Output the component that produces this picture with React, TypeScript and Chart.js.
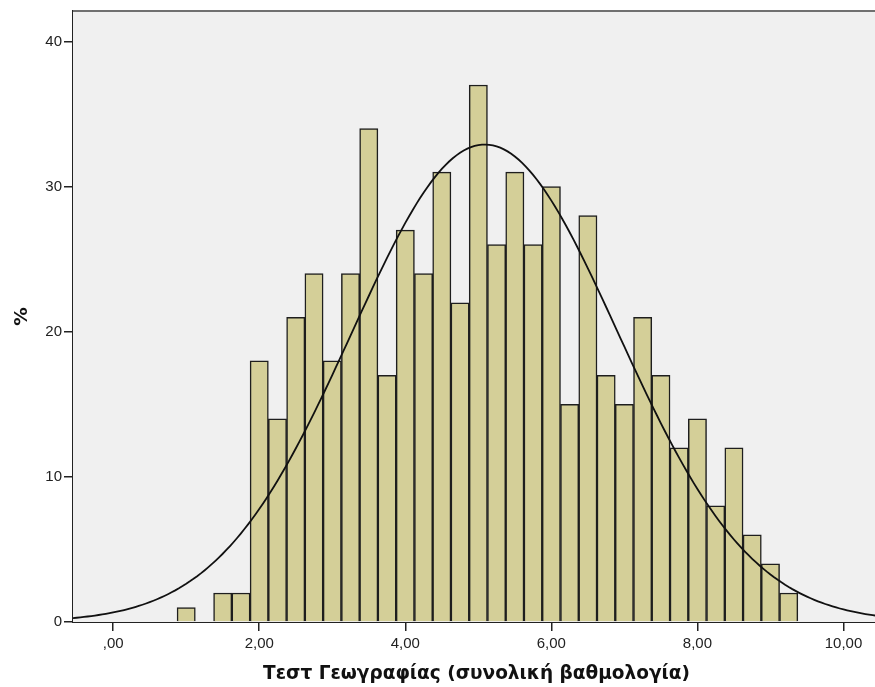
import React, { useEffect, useRef } from "react";
import { Chart, registerables } from "chart.js";

Chart.register(...registerables);

// Histogram bins (bin width 0,25) and their counts
const BIN_CENTERS = [
  1.0, 1.5, 1.75,
  2.0, 2.25, 2.5, 2.75, 3.0, 3.25, 3.5, 3.75,
  4.0, 4.25, 4.5, 4.75, 5.0, 5.25, 5.5, 5.75,
  6.0, 6.25, 6.5, 6.75, 7.0, 7.25, 7.5, 7.75,
  8.0, 8.25, 8.5, 8.75, 9.0, 9.25,
];
const COUNTS = [
  1, 2, 2,
  18, 14, 21, 24, 18, 24, 34, 17,
  27, 24, 31, 22, 37, 26, 31, 26,
  30, 15, 28, 17, 15, 21, 17, 12,
  14, 8, 12, 6, 4, 2,
];

// Normal curve parameters
const NORMAL_MEAN = 5.09;
const NORMAL_SD = 1.82;
const NORMAL_PEAK = 32.9;

const X_TICK_VALUES = [0, 2, 4, 6, 8, 10];
const X_TICK_LABELS = [",00", "2,00", "4,00", "6,00", "8,00", "10,00"];
const Y_TICK_VALUES = [0, 10, 20, 30, 40];
const Y_TICK_LABELS = ["0", "10", "20", "30", "40"];

const X_TITLE = "Τεστ Γεωγραφίας (συνολική βαθμολογία)";
const Y_TITLE = "%";

const X_MIN = -0.55;
const X_MAX = 10.5;
const Y_MAX = 42.1;

const FONT = "'Liberation Sans', Arial, sans-serif";
const TITLE_FONT = "'DejaVu Sans', Verdana, sans-serif";

export default function App() {
  const ref = useRef<HTMLCanvasElement>(null);

  useEffect(() => {
    if (!ref.current) return;
    const curve: { x: number; y: number }[] = [];
    for (let i = 0; i <= 221; i++) {
      const x = X_MIN + (i * (X_MAX - X_MIN)) / 221;
      const z = (x - NORMAL_MEAN) / NORMAL_SD;
      curve.push({ x, y: NORMAL_PEAK * Math.exp(-0.5 * z * z) });
    }
    const bars = BIN_CENTERS.map((x, i) => ({ x, y: COUNTS[i] }));

    const bgPlugin = {
      id: "plotbg",
      beforeDatasetsDraw(chart: any) {
        const { ctx, chartArea } = chart;
        ctx.save();
        ctx.fillStyle = "#f0f0f0";
        ctx.fillRect(chartArea.left, chartArea.top, chartArea.right - chartArea.left, chartArea.bottom - chartArea.top);
        ctx.restore();
      },
      afterDraw(chart: any) {
        const { ctx, chartArea } = chart;
        ctx.save();
        ctx.strokeStyle = "#707070";
        ctx.lineWidth = 2;
        ctx.beginPath();
        ctx.moveTo(chartArea.left, chartArea.top);
        ctx.lineTo(chartArea.right, chartArea.top);
        ctx.stroke();
        ctx.restore();
      },
    };

    const chart = new Chart(ref.current, {
      type: "bar",
      data: {
        datasets: [
          {
            type: "line",
            data: curve,
            borderColor: "#111111",
            borderWidth: 1.8,
            pointRadius: 0,
            tension: 0,
            order: 0,
          } as any,
          {
            type: "bar",
            data: bars,
            backgroundColor: "#d4cf98",
            borderColor: "#1e1e1e",
            borderWidth: 1.5,
            barPercentage: 1,
            categoryPercentage: 1,
            order: 1,
          } as any,
        ],
      },
      plugins: [bgPlugin],
      options: {
        animation: false,
        responsive: false,
        devicePixelRatio: 1,
        layout: { padding: { top: 11, left: 0, right: 0, bottom: 0 } },
        plugins: { legend: { display: false }, tooltip: { enabled: false } },
        scales: {
          x: {
            type: "linear",
            offset: false,
            min: X_MIN,
            max: X_MAX,
            afterBuildTicks: (s: any) => {
              s.ticks = X_TICK_VALUES.map((v) => ({ value: v }));
            },
            afterFit: (s: any) => {
              s.height = 65;
            },
            ticks: {
              callback: (v: any) => {
                const i = X_TICK_VALUES.indexOf(Number(v));
                return i >= 0 ? X_TICK_LABELS[i] : "";
              },
              font: { family: FONT, size: 15 },
              color: "#222222",
              padding: 4,
              maxRotation: 0,
              autoSkip: false,
            },
            grid: { display: true, offset: false, drawOnChartArea: false, drawTicks: true, tickLength: 9, color: "#222222", lineWidth: 1.5 },
            border: { display: true, color: "#222222", width: 2 },
            title: {
              display: true,
              text: X_TITLE,
              font: { family: TITLE_FONT, size: 18.5, weight: "bold" },
              color: "#111111",
              padding: { top: 0, bottom: 2 },
            },
          },
          y: {
            type: "linear",
            min: 0,
            max: Y_MAX,
            afterBuildTicks: (s: any) => {
              s.ticks = Y_TICK_VALUES.map((v) => ({ value: v }));
            },
            afterFit: (s: any) => {
              s.width = 73;
            },
            ticks: {
              callback: (v: any) => {
                const i = Y_TICK_VALUES.indexOf(Number(v));
                return i >= 0 ? Y_TICK_LABELS[i] : "";
              },
              font: { family: FONT, size: 15 },
              color: "#222222",
              padding: 2,
              autoSkip: false,
            },
            grid: { display: true, drawOnChartArea: false, drawTicks: true, tickLength: 9, color: "#222222", lineWidth: 1.5 },
            border: { display: true, color: "#222222", width: 2 },
            title: {
              display: true,
              text: Y_TITLE,
              font: { family: TITLE_FONT, size: 18.5, weight: "bold" },
              color: "#111111",
              padding: { top: 11, bottom: 0 },
            },
          },
        },
      },
    } as any);
    return () => chart.destroy();
  }, []);

  return (
    <div style={{ position: "absolute", left: 0, top: 0, width: 875, height: 687, overflow: "hidden", background: "#ffffff" }}>
      <canvas ref={ref} width={880} height={687} style={{ width: 880, height: 687, display: "block" }} />
    </div>
  );
}
